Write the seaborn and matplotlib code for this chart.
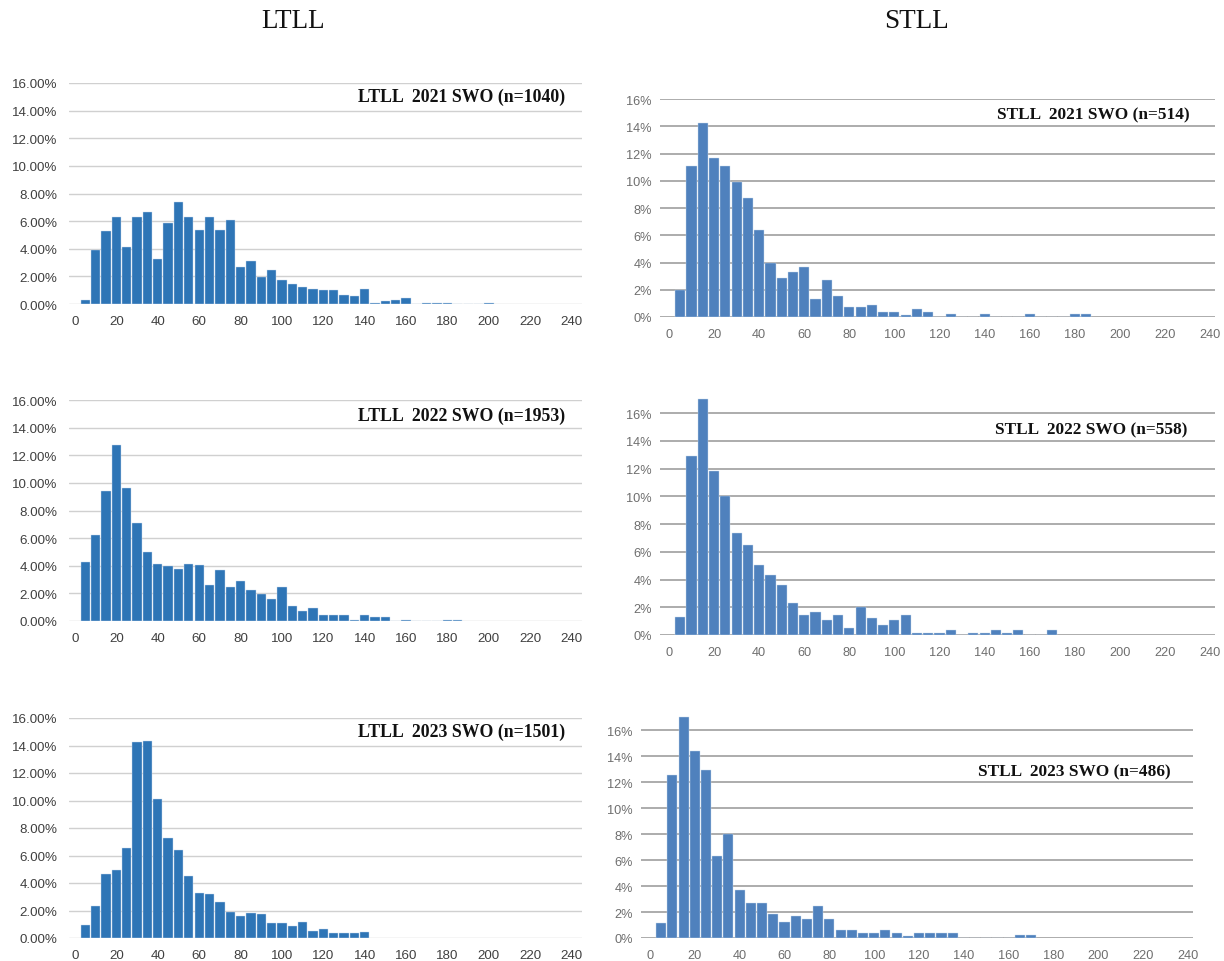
import numpy as np
import pandas as pd
import matplotlib
matplotlib.use("Agg")
import matplotlib.pyplot as plt
import seaborn as sns

sns.set_theme(style="white")
plt.rcParams["font.family"] = ["Liberation Sans", "DejaVu Sans"]

# Length bins (bin centres, cm)
length_bins = [5, 10, 15, 20, 25, 30, 35, 40, 45, 50, 55, 60, 65, 70, 75, 80,
               85, 90, 95, 100, 105, 110, 115, 120, 125, 130, 135, 140, 145, 150,
               155, 160, 165, 170, 175, 180, 185, 190, 195, 200]

# Percent of fish per bin
ltll_2021 = [0.31, 3.92, 5.25, 6.32, 4.13, 6.27, 6.63, 3.27, 5.84, 7.40, 6.27, 5.38,
             6.27, 5.38, 6.06, 2.67, 3.10, 1.92, 2.48, 1.75, 1.44, 1.25, 1.11, 0.99,
             0.99, 0.67, 0.55, 1.08, 0.10, 0.19, 0.31, 0.40, 0.0, 0.10, 0.10, 0.10,
             0.0, 0.0, 0.0, 0.10]
ltll_2022 = [4.29, 6.21, 9.38, 12.73, 9.62, 7.10, 4.99, 4.15, 3.95, 3.78, 4.15, 4.02,
             2.62, 3.66, 2.47, 2.88, 2.25, 1.99, 1.60, 2.47, 1.12, 0.70, 0.97, 0.44,
             0.44, 0.44, 0.07, 0.44, 0.29, 0.29, 0.0, 0.07, 0.0, 0.0, 0.0, 0.07, 0.07]
ltll_2023 = [0.97, 2.30, 4.62, 4.91, 6.54, 14.26, 14.35, 10.12, 7.26, 6.37, 4.50, 3.27,
             3.22, 2.59, 1.91, 1.60, 1.79, 1.74, 1.07, 1.07, 0.90, 1.19, 0.51, 0.68,
             0.39, 0.39, 0.34, 0.44]
stll_2021 = [1.98, 11.08, 14.23, 11.69, 11.08, 9.93, 8.75, 6.38, 3.94, 2.86, 3.28, 3.64,
             1.32, 2.71, 1.52, 0.73, 0.73, 0.90, 0.37, 0.37, 0.17, 0.56, 0.37, 0.0,
             0.19, 0.0, 0.0, 0.19, 0.0, 0.0, 0.0, 0.19, 0.0, 0.0, 0.0, 0.19, 0.19]
stll_2022 = [1.27, 12.95, 17.02, 11.82, 10.06, 7.35, 6.47, 5.06, 4.32, 3.62, 2.34, 1.42,
             1.66, 1.10, 1.42, 0.54, 2.00, 1.25, 0.71, 1.10, 1.42, 0.18, 0.18, 0.18,
             0.36, 0.0, 0.18, 0.18, 0.36, 0.18, 0.36, 0.0, 0.0, 0.36]
stll_2023 = [1.18, 12.52, 16.99, 14.42, 12.96, 6.32, 8.02, 3.68, 2.67, 2.67, 1.83, 1.21,
             1.67, 1.44, 2.44, 1.44, 0.59, 0.59, 0.41, 0.41, 0.59, 0.41, 0.18, 0.41,
             0.41, 0.41, 0.41, 0.0, 0.0, 0.0, 0.0, 0.0, 0.21, 0.21]

panel_labels = ["LTLL  2021 SWO (n=1040)", "STLL  2021 SWO (n=514)",
                "LTLL  2022 SWO (n=1953)", "STLL  2022 SWO (n=558)",
                "LTLL  2023 SWO (n=1501)", "STLL  2023 SWO (n=486)"]
column_titles = ["LTLL", "STLL"]
x_ticks = [0, 20, 40, 60, 80, 100, 120, 140, 160, 180, 200, 220, 240]

W, H = 1224, 962
fig = plt.figure(figsize=(W / 100, H / 100), dpi=100)


def rect(left_px, right_px, top_px, bottom_px):
    return [left_px / W, 1 - bottom_px / H, (right_px - left_px) / W, (bottom_px - top_px) / H]


LT_COLOR = "#2E75B6"
ST_COLOR = "#4F81BD"

panels = [
    # data, style, label, rect px (left,right,top,bottom), xlim, ylim, label x, label y
    (ltll_2021, "LT", panel_labels[0], (68.8, 582, 84, 305), (-3, 245), (0, 16), 237, 15.0),
    (stll_2021, "ST", panel_labels[1], (660, 1214.5, 100, 318), (-4, 242), (0, 16), 231, 14.9),
    (ltll_2022, "LT", panel_labels[2], (68.8, 582, 401, 622), (-3, 245), (0, 16), 237, 14.9),
    (stll_2022, "ST", panel_labels[3], (660, 1214.5, 399, 636), (-4, 242), (0, 17.1), 230, 14.85),
    (ltll_2023, "LT", panel_labels[4], (68.8, 582, 719, 939), (-3, 245), (0, 16), 237, 15.0),
    (stll_2023, "ST", panel_labels[5], (641, 1192.6, 717, 939), (-4, 242), (0, 17.1), 232, 12.8),
]

for vals, kind, label, r, xl, yl, lx, ly in panels:
    ax = fig.add_axes(rect(*r))
    df = pd.DataFrame({"length": length_bins[:len(vals)], "pct": vals})
    color = LT_COLOR if kind == "LT" else ST_COLOR
    grid_c = "#D0D0D0" if kind == "LT" else "#A6A6A6"
    tick_c = "#404040" if kind == "LT" else "#6E6E6E"
    for g in range(0, 17, 2):
        ax.axhline(g, color=grid_c, lw=1.0 if kind == "LT" else 1.3, zorder=0)
    sns.barplot(data=df, x="length", y="pct", native_scale=True, width=0.9,
                color=color, saturation=1, edgecolor="#C9D9EC", linewidth=0.3,
                ax=ax, zorder=2)
    ax.set_xlim(*xl)
    ax.set_ylim(*yl)
    ax.set_xticks(x_ticks)
    ax.set_xticklabels([str(t) for t in x_ticks])
    yt = list(range(0, 17, 2))
    ax.set_yticks(yt)
    if kind == "LT":
        ax.set_yticklabels([f"{t:.2f}%" for t in yt])
    else:
        ax.set_yticklabels([f"{t}%" for t in yt])
    ax.tick_params(axis="both", length=0, labelsize=9.6 if kind == "LT" else 9.2,
                   colors=tick_c)
    ax.tick_params(axis="x", pad=8)
    ax.tick_params(axis="y", pad=8 if kind == "LT" else 6)
    ax.set_xlabel("")
    ax.set_ylabel("")
    for s in ax.spines.values():
        s.set_visible(False)
    ax.grid(False)
    ax.patch.set_alpha(0)
    ax.text(lx, ly, label, ha="right", va="center",
            fontsize=12.8 if kind == "LT" else 12.4, fontweight="bold",
            family=["Liberation Serif", "DejaVu Serif"], color="#111111", zorder=5)

fig.text(293 / W, 1 - 21 / H, column_titles[0], ha="center", va="center",
         fontsize=19.5, family=["Liberation Serif", "DejaVu Serif"], color="#111111")
fig.text(916 / W, 1 - 21 / H, column_titles[1], ha="center", va="center",
         fontsize=19.5, family=["Liberation Serif", "DejaVu Serif"], color="#111111")

fig.savefig("out.png", dpi=100, facecolor="white")
